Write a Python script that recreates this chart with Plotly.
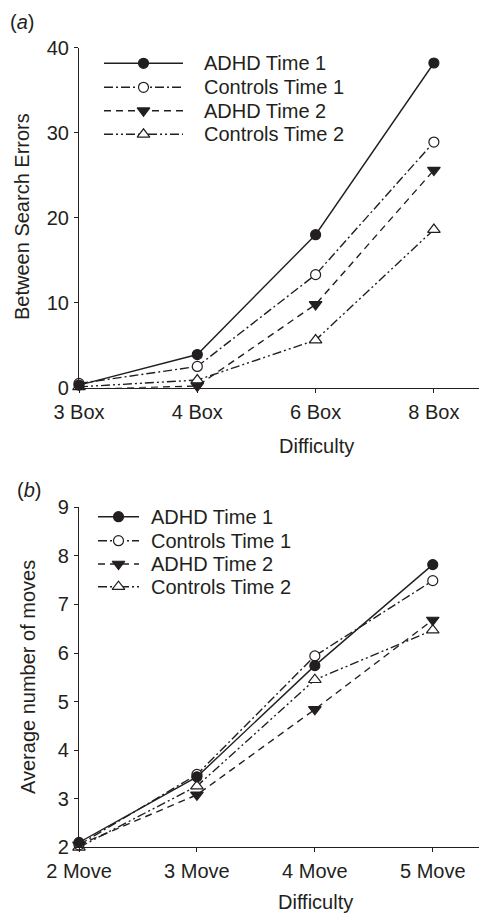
import plotly.graph_objects as go

# The page body has an 8px margin, so the figure is drawn 8px in from the
# top-left corner of the window; the figure size is reduced to fit.
PAGE_W, PAGE_H = 487, 913
OFF = 8
W, H = PAGE_W - OFF, PAGE_H - OFF

# ---------------- data ----------------
series_names = ["ADHD Time 1", "Controls Time 1", "ADHD Time 2", "Controls Time 2"]

categories_a = ["3 Box", "4 Box", "6 Box", "8 Box"]
adhd_t1_a = [0.3, 3.9, 18.0, 38.2]
controls_t1_a = [0.5, 2.5, 13.3, 28.9]
adhd_t2_a = [-0.2, 0.2, 9.8, 25.6]
controls_t2_a = [0.1, 0.9, 5.6, 18.6]
yticks_a = [0, 10, 20, 30, 40]

categories_b = ["2 Move", "3 Move", "4 Move", "5 Move"]
adhd_t1_b = [2.1, 3.45, 5.74, 7.82]
controls_t1_b = [2.05, 3.5, 5.94, 7.49]
adhd_t2_b = [2.05, 3.08, 4.84, 6.68]
controls_t2_b = [2.0, 3.26, 5.45, 6.47]
yticks_b = [2, 3, 4, 5, 6, 7, 8, 9]

# ---------------- styles ----------------
INK = "#231f20"
FONT = "Liberation Sans, Arial, sans-serif"
FS = 20
LW = 1.4
styles = [
    dict(dash="solid", symbol="circle", fill=INK, size=10),
    dict(dash="9px,3px,2px,3px", symbol="circle", fill="white", size=10),
    dict(dash="7px,5px", symbol="triangle-down", fill=INK, size=11),
    dict(dash="9px,3px,2px,3px,2px,3px", symbol="triangle-up", fill="white", size=11),
]

# page-pixel -> paper fraction helpers
def px_x(p):
    return (p - OFF) / W

def px_y(p):
    return 1 - (p - OFF) / H

fig = go.Figure()

def add_series(xs, ys, st, xa, ya):
    fig.add_trace(go.Scatter(
        x=xs, y=ys, mode="lines+markers", xaxis=xa, yaxis=ya,
        line=dict(color=INK, width=LW, dash=st["dash"]),
        marker=dict(symbol=st["symbol"], size=st["size"], color=st["fill"],
                    line=dict(color=INK, width=1.2)),
        cliponaxis=False, showlegend=False, hoverinfo="skip"))

data_a = [adhd_t1_a, controls_t1_a, adhd_t2_a, controls_t2_a]
data_b = [adhd_t1_b, controls_t1_b, adhd_t2_b, controls_t2_b]
for i in [3, 2, 1, 0]:
    add_series(categories_a, data_a[i], styles[i], "x", "y")
    add_series(categories_b, data_b[i], styles[i], "x2", "y2")

# ---------------- custom legends (overlay page-pixel axis) ----------------
leg_a = dict(x0=104, x1=183, xt=202, rows=[63.3, 87.3, 110.7, 134.3])
leg_b = dict(x0=98, x1=139, xt=149, rows=[516.7, 540.7, 564.0, 586.7])
annotations = []
for leg in (leg_a, leg_b):
    for i, name in enumerate(series_names):
        st = styles[i]
        r = leg["rows"][i]
        xm = (leg["x0"] + leg["x1"]) / 2
        fig.add_trace(go.Scatter(
            x=[leg["x0"], leg["x1"]], y=[r, r], mode="lines",
            xaxis="x3", yaxis="y3",
            line=dict(color=INK, width=LW, dash=st["dash"]),
            cliponaxis=False, showlegend=False, hoverinfo="skip"))
        fig.add_trace(go.Scatter(
            x=[xm], y=[r], mode="markers", xaxis="x3", yaxis="y3",
            marker=dict(symbol=st["symbol"], size=st["size"], color=st["fill"],
                        line=dict(color=INK, width=1.2)),
            cliponaxis=False, showlegend=False, hoverinfo="skip"))
        annotations.append(dict(x=leg["xt"], y=r, xref="x3", yref="y3", text=name,
                                showarrow=False, xanchor="left", yanchor="middle",
                                font=dict(size=FS, color=INK, family=FONT)))

# panel labels and axis titles
labels = [
    ("(<i>a</i>)", 22, 22, 0),
    ("(<i>b</i>)", 29, 490, 0),
    ("Between Search Errors", 22, 217, -90),
    ("Average number of moves", 28, 677, -90),
    ("Difficulty", 316, 446, 0),
    ("Difficulty", 315, 902, 0),
]
for text, x, y, ang in labels:
    annotations.append(dict(x=x, y=y, xref="x3", yref="y3", text=text, showarrow=False,
                            xanchor="center", yanchor="middle", textangle=ang,
                            font=dict(size=FS, color=INK, family=FONT)))

axis_common = dict(showgrid=False, zeroline=False, showline=True, linecolor=INK,
                   linewidth=1.2, ticks="outside", ticklen=4, tickwidth=1.2,
                   tickcolor=INK, tickfont=dict(size=FS, color=INK, family=FONT),
                   automargin=False)

fig.update_layout(
    width=W, height=H, margin=dict(l=0, r=0, t=0, b=0),
    paper_bgcolor="white", plot_bgcolor="rgba(0,0,0,0)",
    font=dict(family=FONT, size=FS, color=INK),
    xaxis=dict(domain=[px_x(79), 1], range=[0, 3.449], anchor="y",
               type="category", ticklabelstandoff=2, **axis_common),
    yaxis=dict(domain=[px_y(387.7), px_y(47.7)], range=[0, 40], anchor="x",
               tickvals=yticks_a, ticklabelstandoff=1, **axis_common),
    xaxis2=dict(domain=[px_x(79), 1], range=[0, 3.46], anchor="y2",
                type="category", ticklabelstandoff=2, **axis_common),
    yaxis2=dict(domain=[px_y(847.3), px_y(507.3)], range=[2, 9], anchor="x2",
                tickvals=yticks_b, ticklabelstandoff=1, **axis_common),
    xaxis3=dict(domain=[0, 1], range=[OFF, PAGE_W], visible=False, anchor="y3",
                fixedrange=True),
    yaxis3=dict(domain=[0, 1], range=[PAGE_H, OFF], visible=False, anchor="x3",
                fixedrange=True),
    annotations=annotations,
    showlegend=False,
)

fig.write_html("out.html")
